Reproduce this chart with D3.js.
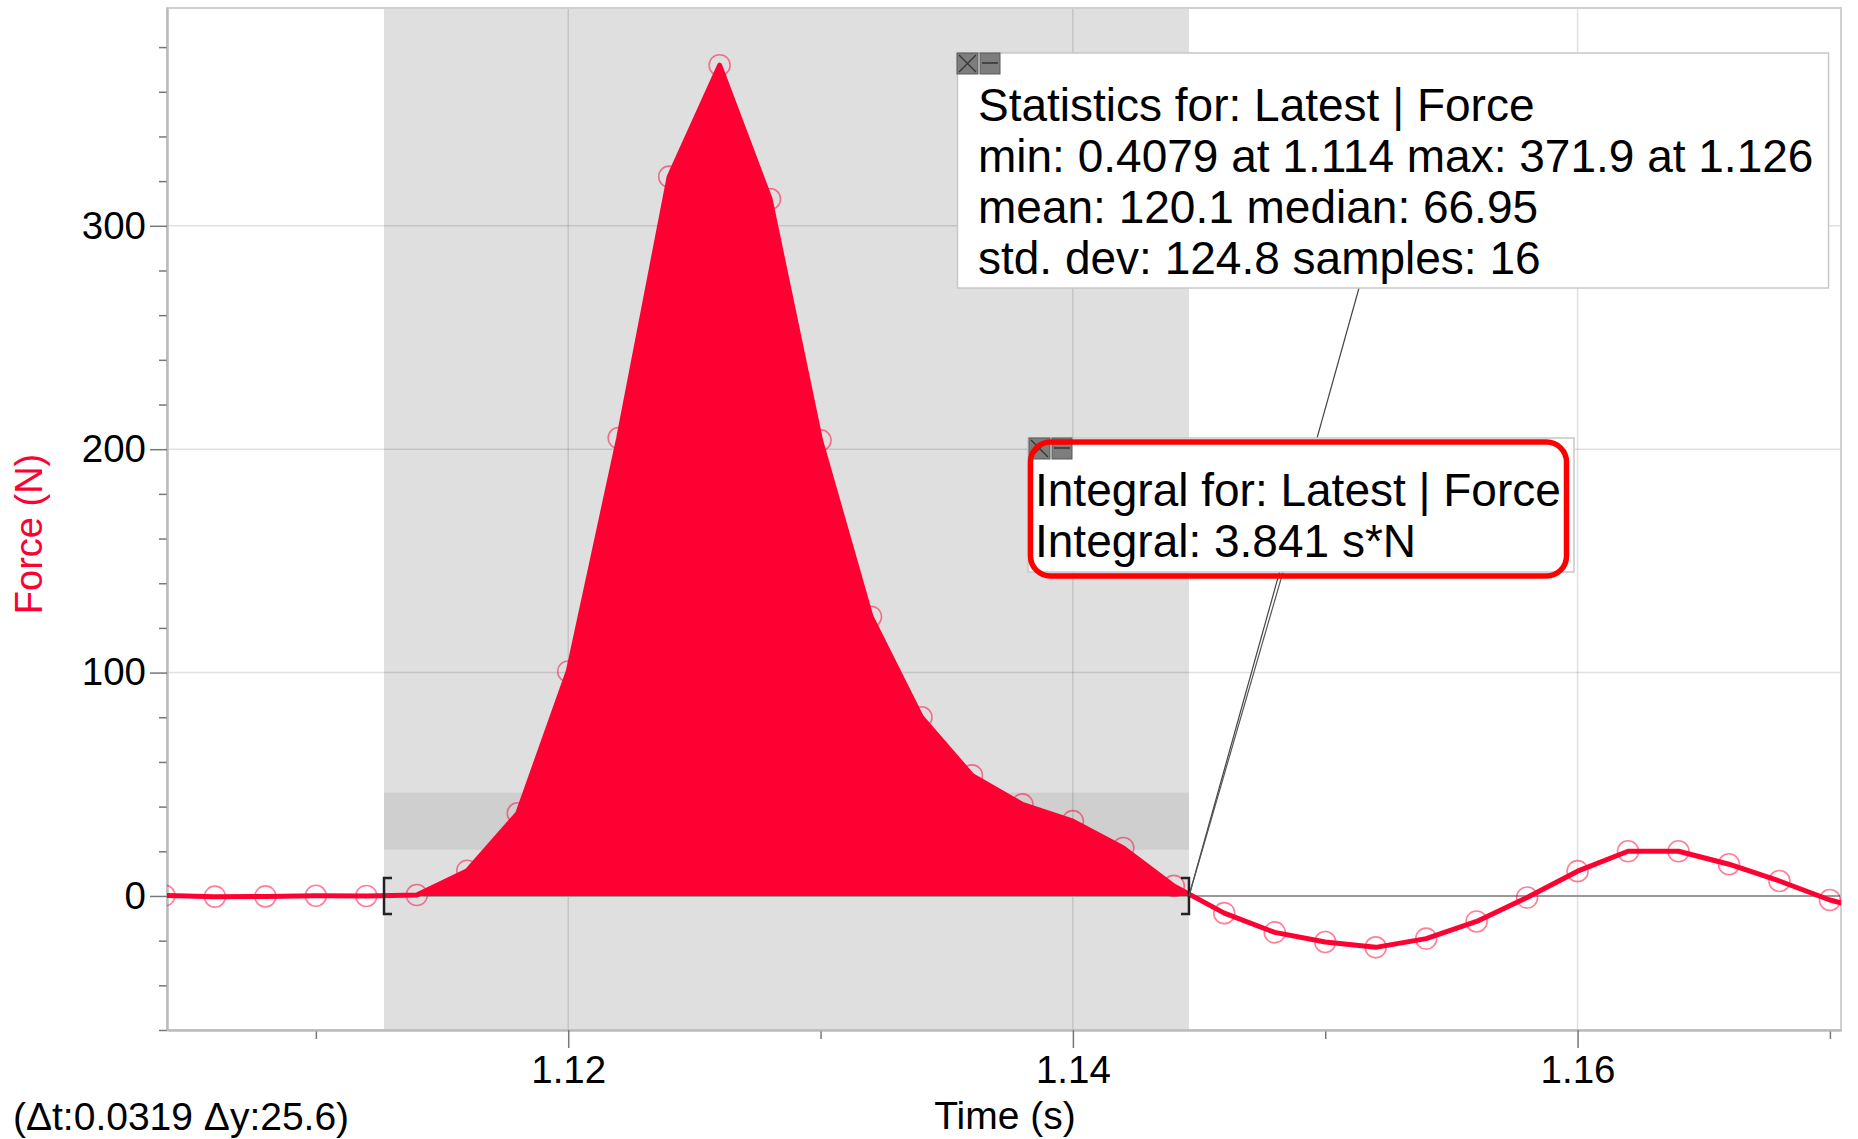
<!DOCTYPE html>
<meta charset="utf-8">
<script src="https://d3js.org/d3.v7.min.js"></script>
<style>
  body { margin: 0; background: #fff; }
  svg text { font-family: "Liberation Sans", Arial, sans-serif; }
</style>
<body>
<div id="chart"></div>
<script>

// sampled data: time (s) and force (N)
const times = [1.104, 1.106, 1.108, 1.110, 1.112, 1.114, 1.116, 1.118, 1.120, 1.122,
               1.124, 1.126, 1.128, 1.130, 1.132, 1.134, 1.136, 1.138, 1.140, 1.142,
               1.144, 1.146, 1.148, 1.150, 1.152, 1.154, 1.156, 1.158, 1.160, 1.162,
               1.164, 1.166, 1.168, 1.170, 1.172];
const force = [0.2, -0.3, -0.2, 0.1, 0.0, 0.4079, 11.3, 37, 100.5, 205,
               322, 371.9, 312, 204, 125, 80, 54, 41, 33.5, 21.5,
               4.5, -7.7, -16.3, -20.6, -23.0, -19.1, -11.4, -0.7, 11.1, 20.0,
               20.0, 14.2, 6.7, -1.8, -7.7];

// ticks
const xMajor = [1.12, 1.14, 1.16];
const xMinor = [1.11, 1.13, 1.15, 1.17];
const yMajor = [0, 100, 200, 300];
const yMinor = [-60, -40, -20, 20, 40, 60, 80, 120, 140, 160, 180, 220, 240, 260, 280, 320, 340, 360, 380];

// selected region and delta band
const selection = [1.1127, 1.1446];
const deltaBand = [20.7, 46.3];

const statsLines = [
  "Statistics for: Latest | Force",
  "min: 0.4079 at 1.114 max: 371.9 at 1.126",
  "mean: 120.1 median: 66.95",
  "std. dev: 124.8 samples: 16"
];
const integralLines = [
  "Integral for: Latest | Force",
  "Integral: 3.841 s*N"
];
const deltaLabel = "(\u0394t:0.0319 \u0394y:25.6)";

const W = 1858, H = 1139;
const plot = {left: 167, right: 1841, top: 8, bottom: 1030};
const red = "#ff0033";

const data = times.map((t, i) => ({t: t, f: force[i]}));

const svg = d3.select("#chart").append("svg")
  .attr("width", W)
  .attr("height", H);

const x = d3.scaleLinear().domain([1.1041, 1.17044]).range([plot.left, plot.right]);
const y = d3.scaleLinear().domain([-60, 397.5]).range([plot.bottom, plot.top]);

const defs = svg.append("defs");
defs.append("clipPath").attr("id", "plotClip")
  .append("rect")
  .attr("x", plot.left).attr("y", plot.top)
  .attr("width", plot.right - plot.left).attr("height", plot.bottom - plot.top);
defs.append("clipPath").attr("id", "selClip")
  .append("rect")
  .attr("x", x(selection[0])).attr("y", plot.top)
  .attr("width", x(selection[1]) - x(selection[0])).attr("height", plot.bottom - plot.top);

// selection shading
svg.append("rect")
  .attr("x", x(selection[0])).attr("y", plot.top)
  .attr("width", x(selection[1]) - x(selection[0]))
  .attr("height", plot.bottom - plot.top)
  .attr("fill", "#dfdfdf");
svg.append("rect")
  .attr("x", x(selection[0])).attr("y", y(deltaBand[1]))
  .attr("width", x(selection[1]) - x(selection[0]))
  .attr("height", y(deltaBand[0]) - y(deltaBand[1]))
  .attr("fill", "#cfcfcf");

// grid
svg.append("g").selectAll("line")
  .data(yMajor.filter(d => d !== 0))
  .join("line")
  .attr("x1", plot.left).attr("x2", plot.right)
  .attr("y1", d => y(d)).attr("y2", d => y(d))
  .attr("stroke", "rgba(0,0,0,0.12)").attr("stroke-width", 1.5);
svg.append("g").selectAll("line")
  .data(xMajor)
  .join("line")
  .attr("x1", d => x(d)).attr("x2", d => x(d))
  .attr("y1", plot.top).attr("y2", plot.bottom)
  .attr("stroke", "rgba(0,0,0,0.12)").attr("stroke-width", 1.5);

// zero line
svg.append("line")
  .attr("x1", plot.left).attr("x2", plot.right)
  .attr("y1", y(0)).attr("y2", y(0))
  .attr("stroke", "#999").attr("stroke-width", 2);

// frame
svg.append("rect")
  .attr("x", plot.left).attr("y", plot.top)
  .attr("width", plot.right - plot.left).attr("height", plot.bottom - plot.top)
  .attr("fill", "none").attr("stroke", "#d0d0d0").attr("stroke-width", 2);

// axes
function styleAxis(g) {
  g.select(".domain").attr("stroke", "#bbb").attr("stroke-width", 2);
  g.selectAll(".tick line").attr("stroke", "#777").attr("stroke-width", 1.5);
  g.selectAll("text").attr("fill", "#000").attr("font-size", 38.5)
    .attr("font-family", '"Liberation Sans", Arial, sans-serif');
}
svg.append("g")
  .attr("transform", `translate(${plot.left},0)`)
  .call(d3.axisLeft(y).tickValues(yMinor).tickSize(8).tickFormat("").tickSizeOuter(0))
  .call(styleAxis);
svg.append("g")
  .attr("transform", `translate(${plot.left},0)`)
  .call(d3.axisLeft(y).tickValues(yMajor).tickSize(17).tickPadding(4).tickSizeOuter(0))
  .call(styleAxis);
svg.append("g")
  .attr("transform", `translate(0,${plot.bottom})`)
  .call(d3.axisBottom(x).tickValues(xMinor).tickSize(9).tickFormat("").tickSizeOuter(0))
  .call(styleAxis);
svg.append("g")
  .attr("transform", `translate(0,${plot.bottom})`)
  .call(d3.axisBottom(x).tickValues(xMajor).tickSize(18).tickPadding(8).tickFormat(d3.format(".2f")).tickSizeOuter(0))
  .call(styleAxis);

// markers
svg.append("g").attr("clip-path", "url(#plotClip)")
  .selectAll("circle")
  .data(data)
  .join("circle")
  .attr("cx", d => x(d.t)).attr("cy", d => y(d.f))
  .attr("r", 10.5)
  .attr("fill", "none")
  .attr("stroke", "rgba(255,0,51,0.5)")
  .attr("stroke-width", 1.6);

// integral area
svg.append("path")
  .datum(data)
  .attr("clip-path", "url(#selClip)")
  .attr("fill", red)
  .attr("d", d3.area().x(d => x(d.t)).y0(y(0)).y1(d => y(d.f)));

// line
svg.append("path")
  .datum(data)
  .attr("clip-path", "url(#plotClip)")
  .attr("fill", "none")
  .attr("stroke", red)
  .attr("stroke-width", 5)
  .attr("stroke-linejoin", "round")
  .attr("d", d3.line().x(d => x(d.t)).y(d => y(d.f)));

// selection brackets
const bx0 = x(selection[0]), bx1 = x(selection[1]), by = y(0);
svg.append("path")
  .attr("d", `M${bx0 + 8},${by - 18}H${bx0}V${by + 18}H${bx0 + 8}`)
  .attr("fill", "none").attr("stroke", "#222").attr("stroke-width", 2.5);
svg.append("path")
  .attr("d", `M${bx1 - 8},${by - 18}H${bx1}V${by + 18}H${bx1 - 8}`)
  .attr("fill", "none").attr("stroke", "#222").attr("stroke-width", 2.5);

// leader lines
svg.append("line")
  .attr("x1", 1359).attr("y1", 288).attr("x2", bx1).attr("y2", by)
  .attr("stroke", "#444").attr("stroke-width", 1.2);
svg.append("line")
  .attr("x1", 1283).attr("y1", 572).attr("x2", bx1).attr("y2", by)
  .attr("stroke", "#555").attr("stroke-width", 1.2);

// little close / minimise buttons
function buttons(x0, y0) {
  const g = svg.append("g");
  g.append("rect").attr("x", x0).attr("y", y0).attr("width", 21).attr("height", 21)
    .attr("fill", "#7d7d7d").attr("stroke", "#5a5a5a");
  g.append("path").attr("d", `M${x0 + 2},${y0 + 2}L${x0 + 19},${y0 + 19}M${x0 + 19},${y0 + 2}L${x0 + 2},${y0 + 19}`)
    .attr("stroke", "#333").attr("stroke-width", 1.2);
  g.append("rect").attr("x", x0 + 23).attr("y", y0).attr("width", 20).attr("height", 21)
    .attr("fill", "#7d7d7d").attr("stroke", "#5a5a5a");
  g.append("line").attr("x1", x0 + 25).attr("x2", x0 + 41).attr("y1", y0 + 10).attr("y2", y0 + 10)
    .attr("stroke", "#333").attr("stroke-width", 1.5);
}

// statistics box
svg.append("rect")
  .attr("x", 957.5).attr("y", 53).attr("width", 871).attr("height", 235)
  .attr("fill", "#fff").attr("stroke", "#c8c8c8").attr("stroke-width", 1.5);
buttons(957, 53);
svg.append("g").selectAll("text")
  .data(statsLines)
  .join("text")
  .attr("x", 978).attr("y", (d, i) => 121 + i * 51)
  .attr("font-size", 46).attr("fill", "#000")
  .text(d => d);

// integral box
svg.append("rect")
  .attr("x", 1028).attr("y", 438).attr("width", 546).attr("height", 134)
  .attr("fill", "#fff").attr("stroke", "#c8c8c8").attr("stroke-width", 1.5);
buttons(1029, 438);
svg.append("rect")
  .attr("x", 1030.5).attr("y", 442).attr("width", 536).attr("height", 134)
  .attr("rx", 20).attr("ry", 20)
  .attr("fill", "none").attr("stroke", "#ff0000").attr("stroke-width", 5.5);
svg.append("g").selectAll("text")
  .data(integralLines)
  .join("text")
  .attr("x", 1035).attr("y", (d, i) => 506 + i * 51)
  .attr("font-size", 46).attr("fill", "#000")
  .text(d => d);

// axis titles
svg.append("text")
  .attr("transform", "translate(42,534) rotate(-90)")
  .attr("text-anchor", "middle")
  .attr("font-size", 38).attr("fill", red)
  .text("Force (N)");
svg.append("text")
  .attr("x", 1005).attr("y", 1129)
  .attr("text-anchor", "middle")
  .attr("font-size", 39).attr("fill", "#000")
  .text("Time (s)");
svg.append("text")
  .attr("x", 13).attr("y", 1130)
  .attr("font-size", 39).attr("fill", "#000")
  .text(deltaLabel);

</script>
</body>
